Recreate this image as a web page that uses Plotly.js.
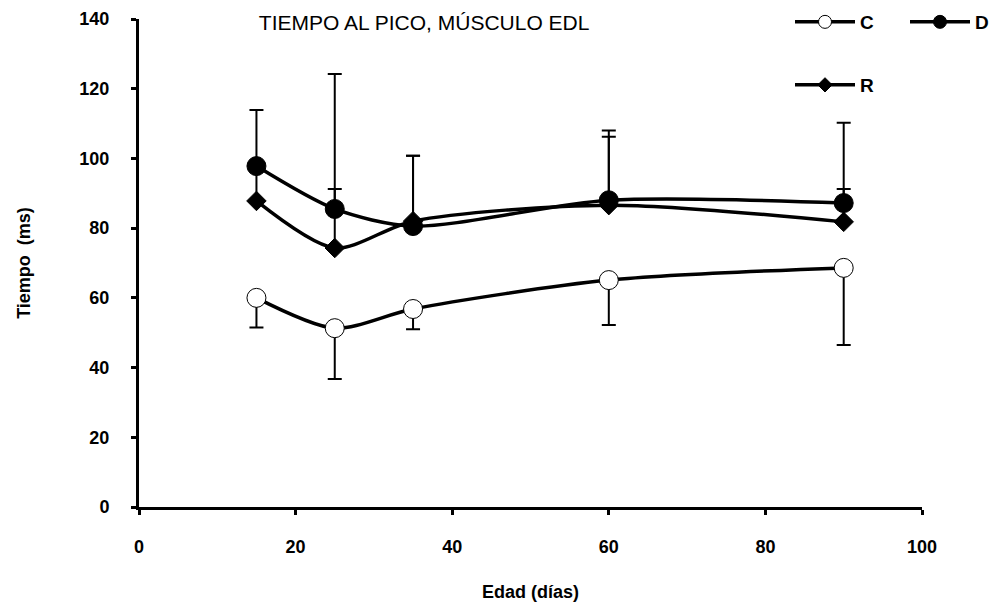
<!DOCTYPE html>
<html>
<head>
<meta charset="utf-8">
<script src="https://cdn.plot.ly/plotly-3.0.1.min.js"></script>
<style>html,body{margin:0;padding:0;background:#fff;}#chart{width:991px;height:602px;}</style>
</head>
<body>
<div id="chart"></div>
<script>
// Data
const edad = [15, 25, 35, 60, 90];
const serieC = [60, 51.3, 56.8, 65.1, 68.6];
const errC = [8.5, 14.6, 5.8, 12.9, 22.1];     // downward only
const serieD = [97.8, 85.5, 80.6, 88, 87.2];
const errD = [16.1, 38.7, 20.2, 20, 23];       // upward only
const serieR = [87.8, 74.3, 82, 86.6, 81.8];
const errR = [9, 16.9, 18.8, 19.6, 9.4];       // upward only
const zeros = [0, 0, 0, 0, 0];
const xTicks = [0, 20, 40, 60, 80, 100];
const yTicks = [0, 20, 40, 60, 80, 100, 120, 140];
const names = ['C', 'D', 'R'];

const FONT = 'Liberation Sans, Arial, sans-serif';
const LW = 3.5;

function series(y, err, up, sym, fill, size) {
  return {
    x: edad, y: y, type: 'scatter', mode: 'lines+markers', showlegend: false,
    line: {color: '#000', width: LW, shape: 'spline', smoothing: 0.8},
    marker: {symbol: sym, size: size, color: fill, line: {color: '#000', width: 1}},
    error_y: {type: 'data', symmetric: false,
      array: up ? err : zeros, arrayminus: up ? zeros : err,
      color: '#000', thickness: 2, width: 7}
  };
}
function legendEntry(name, sym, fill, size, leg) {
  return {
    x: [null], y: [null], name: name, type: 'scatter', mode: 'lines+markers',
    line: {color: '#000', width: LW},
    marker: {symbol: sym, size: size, color: fill, line: {color: '#000', width: 1}},
    legend: leg, showlegend: true
  };
}

const traces = [
  series(serieC, errC, false, 'circle', '#fff', 19),
  series(serieR, errR, true, 'diamond', '#000', 15),
  series(serieD, errD, true, 'circle', '#000', 19),
  legendEntry(names[0], 'circle', '#fff', 13, 'legend'),
  legendEntry(names[1], 'circle', '#000', 13, 'legend2'),
  legendEntry(names[2], 'diamond', '#000', 11, 'legend3')
];

const legendBase = {
  font: {family: FONT, size: 19, color: '#000', weight: 'bold'},
  bgcolor: 'rgba(0,0,0,0)', xanchor: 'left', yanchor: 'middle',
  itemwidth: 60
};

const axFont = {family: FONT, size: 18, color: '#000', weight: 'bold'};

const layout = {
  width: 991, height: 602,
  paper_bgcolor: '#fff', plot_bgcolor: '#fff',
  margin: {l: 139, r: 69, t: 19, b: 95, autoexpand: false},
  showlegend: true,
  title: {
    text: 'TIEMPO AL PICO, MÚSCULO EDL',
    font: {family: FONT, size: 21, color: '#000'},
    x: 0.428, xanchor: 'center', y: 1 - 23 / 602, yanchor: 'middle'
  },
  xaxis: {
    range: [0, 100], tickvals: xTicks, ticktext: xTicks.map(String),
    showgrid: false, zeroline: false, showline: true, linecolor: '#000', linewidth: 3,
    ticks: 'outside', ticklen: 5, tickwidth: 3, tickcolor: '#000',
    tickfont: axFont, ticklabelstandoff: 16,
    title: {text: 'Edad (días)', font: axFont, standoff: 30},
    automargin: false
  },
  yaxis: {
    range: [0, 140], tickvals: yTicks, ticktext: yTicks.map(String),
    showgrid: false, zeroline: false, showline: true, linecolor: '#000', linewidth: 3,
    ticks: 'outside', ticklen: 5, tickwidth: 3, tickcolor: '#000',
    tickfont: axFont, ticklabelstandoff: 18,
    title: {text: 'Tiempo  (ms)', font: axFont, standoff: 45},
    automargin: false
  },
  legend: Object.assign({}, legendBase, {x: (790 - 139) / 783, y: (507 - 22) / 488}),
  legend2: Object.assign({}, legendBase, {x: (905 - 139) / 783, y: (507 - 22) / 488}),
  legend3: Object.assign({}, legendBase, {x: (790 - 139) / 783, y: (507 - 85) / 488})
};

Plotly.newPlot('chart', traces, layout, {displayModeBar: false, staticPlot: true});
</script>
</body>
</html>
